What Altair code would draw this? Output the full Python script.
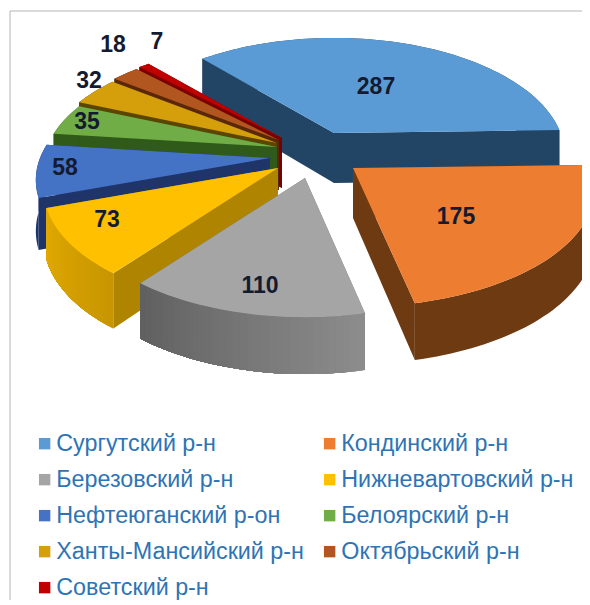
import math
import altair as alt

names = ["Сургутский р-н", "Кондинский р-н", "Березовский р-н", "Нижневартовский р-н",
         "Нефтеюганский р-он", "Белоярский р-н", "Ханты-Мансийский р-н", "Октябрьский р-н",
         "Советский р-н"]
values = [287, 175, 110, 73, 58, 35, 32, 18, 7]
top_colors = ["#5B9BD5", "#ED7D31", "#A5A5A5", "#FFC000", "#4472C4", "#70AD47", "#D49F0A", "#B0561E", "#C00000"]
side_colors = ["#234565", "#6E3A12", "#6F6F6F", "#AE8400", "#1F3468", "#2F5A1A", "#5C4500", "#5A2808", "#7A0000"]
rim_from = [(35, 69, 101), (110, 58, 18), (140, 140, 140), (200, 150, 0), (31, 52, 104), (47, 90, 26), (92, 69, 0), (90, 40, 8), (122, 0, 0)]
rim_to = [(35, 69, 101), (110, 58, 18), (95, 95, 95), (226, 170, 0), (31, 52, 104), (47, 90, 26), (92, 69, 0), (90, 40, 8), (122, 0, 0)]
legend_order = [0, 2, 4, 6, 8, 1, 3, 5, 7]

# layout of the pseudo-3D pie (page pixels)
START = -41.5
RX, RY, K, DEPTH = 230.0, 113.0, 0.188, 50.0
OFF = 8
hub_x = [334, 353, 305, 278, 270, 277, 277, 279, 282]
hub_y = [133, 168, 178, 168, 158, 147, 143, 140, 138]
rim_scale = [0.985, 1.03, 1, 1, 1, 1, 1, 1, 1]
label_dx = [42, 103, -45, -171, -205, -190, -188, -166, -125]
label_dy = [-46, 49, 108, 52, 10, -25, -62, -95, -96]
paint_order = [0, 8, 7, 6, 5, 4, 3, 2, 1]


def project(i, deg):
    a = math.radians(deg)
    u, v = math.sin(a), -math.cos(a)
    p = 1 / (1 - K * v)
    return (hub_x[i] + RX * rim_scale[i] * u * p - OFF, hub_y[i] + RY * v * p - OFF), p


def face(i, ring, fill):
    pts = [list(pt) for pt in ring]
    return {"type": "Feature",
            "geometry": {"type": "Polygon", "coordinates": [pts]},
            "properties": {"name": names[i], "fill": fill}}


def mix(c0, c1, t):
    return "#%02x%02x%02x" % tuple(round(c0[k] + (c1[k] - c0[k]) * t) for k in range(3))


total = sum(values)
edges = [START]
for val in values:
    edges.append(edges[-1] + val / total * 360)

layers = []
for i in paint_order:
    a0, a1 = edges[i], edges[i + 1]
    n = max(3, int((a1 - a0) / 1.5))
    rim, low = [], []
    for j in range(n + 1):
        (x, y), p = project(i, a0 + (a1 - a0) * j / n)
        rim.append((x, y))
        low.append((x, y + DEPTH * (1 + 0.6 * (p - 1))))
    hx, hy = hub_x[i] - OFF, hub_y[i] - OFF
    hub, hub_low = (hx, hy), (hx, hy + DEPTH)
    faces = [face(i, [hub, rim[0], low[0], hub_low, hub], side_colors[i]),
             face(i, [hub, rim[-1], low[-1], hub_low, hub], side_colors[i]),
             face(i, rim + low[::-1] + [rim[0]], mix(rim_from[i], rim_to[i], 0.5))]
    if rim_from[i] != rim_to[i]:
        # each band runs to the far end of the rim, the next one paints over it: no seams
        for j in range(n):
            band_rim = rim[j:]
            band_low = low[j:][::-1]
            faces.append(face(i, band_rim + band_low + [rim[j]], mix(rim_from[i], rim_to[i], j / n)))
    top = [hub] + rim + [hub]
    layers.append(
        alt.Chart(alt.Data(values=faces))
        .mark_geoshape(strokeWidth=0, opacity=1)
        .encode(fill=alt.Fill("properties.fill:N", scale=None))
        .project(type="identity", scale=1, translate=[0, 0])
    )
    layers.append(
        alt.Chart(alt.Data(values=[face(i, top, top_colors[i])]))
        .mark_geoshape(strokeWidth=0, opacity=1)
        .encode(fill=alt.Fill(
            "properties.name:N",
            scale=alt.Scale(domain=[names[k] for k in legend_order],
                            range=[top_colors[k] for k in legend_order]),
            sort=[names[k] for k in legend_order],
            legend=alt.Legend(
                title=None, orient="none", legendX=25, legendY=424, columns=2,
                symbolType="square", symbolSize=130, symbolStrokeWidth=0,
                labelFont="Liberation Sans", labelFontSize=23.3, labelColor="#2E74B5",
                labelLimit=300, labelOffset=0, rowPadding=12, columnPadding=14,
                padding=0, gridAlign="each",
            ),
        ))
        .project(type="identity", scale=1, translate=[0, 0])
    )

label_rows = [{"x": hub_x[i] + label_dx[i] - OFF, "y": hub_y[i] + label_dy[i] - OFF, "v": str(values[i])}
              for i in range(len(values))]
labels = alt.Chart(alt.Data(values=label_rows)).mark_text(
    font="Liberation Sans", fontWeight="bold", fontSize=23, color="#141a30"
).encode(
    x=alt.X("x:Q", scale=None, axis=None),
    y=alt.Y("y:Q", scale=None, axis=None),
    text="v:N",
)

frame_left = alt.Chart(alt.Data(values=[{"a": 1}])).mark_rule(color="#b4b4b4", strokeWidth=1).encode(
    x=alt.value(2), y=alt.value(3), y2=alt.value(592))
frame_top = alt.Chart(alt.Data(values=[{"a": 1}])).mark_rule(color="#b4b4b4", strokeWidth=1).encode(
    x=alt.value(2), x2=alt.value(574), y=alt.value(3))

chart = alt.layer(*layers, labels, frame_left, frame_top).properties(
    width=574, height=592, padding=0, autosize=alt.AutoSizeParams(type="none"),
).configure_view(stroke=None)

chart.save("out.html", embed_options={"renderer": "svg", "actions": False})
